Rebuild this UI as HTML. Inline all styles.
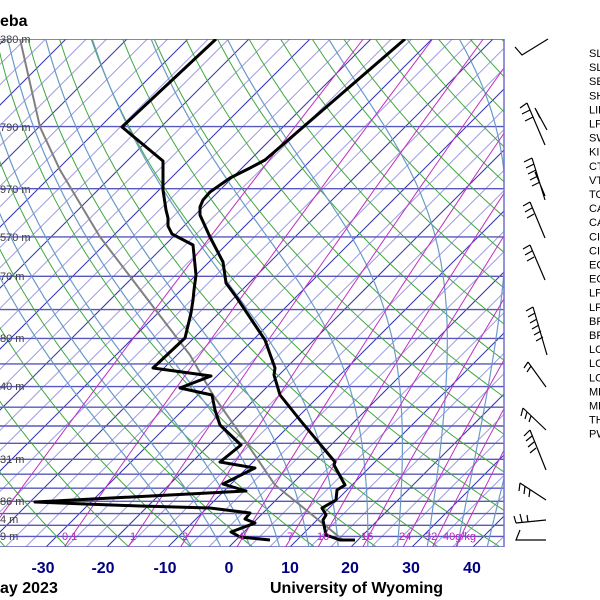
<!DOCTYPE html>
<html><head><meta charset="utf-8"><style>
html,body{margin:0;padding:0;background:#fff;width:600px;height:600px;overflow:hidden}
svg{display:block}
text{font-family:"Liberation Sans",Arial,sans-serif}
</style></head><body>
<svg id="s" width="600" height="600" viewBox="0 0 600 600" xmlns="http://www.w3.org/2000/svg">
<defs><clipPath id="c"><rect x="0" y="39" width="504" height="508"/></clipPath></defs>
<g id="bg" clip-path="url(#c)"></g>
<g id="fg" clip-path="url(#c)">
<polyline fill="none" stroke="#808080" stroke-width="2" points="20,39 40,127 60,170 100,237 148,300 190,355 213,395 250,448 275,485 300,505 343,540"/>
<polyline fill="none" stroke="#000" stroke-width="3" stroke-linejoin="round" points="216,39 122,127 163,161 163,190 166,210 168,218 168,226 172,234 193,245 196,275 194,290 193,300 191,313 185,338 153,368 211,376 180,388 212,395 215,410 220,425 241,445 220,462 255,468 223,484 246,491 35,502 85,504 140,506 210,508 250,513 245,519 255,523 231,532 240,537 270,540"/>
<polyline fill="none" stroke="#000" stroke-width="3" stroke-linejoin="round" points="405,39 265,160 250,168 230,178 210,192 203,200 200,207 200,215 210,237 223,262 226,283 237,298 265,340 275,368 274,375 280,395 300,420 335,462 334,465 345,485 337,490 336,500 322,508 326,515 323,520 326,535 340,540 355,540"/>
</g>
<line x1="504" y1="39" x2="504" y2="547" stroke="#7070d0" stroke-width="1.5"/>
<g id="lab" font-size="11" fill="#404040"></g>
<g font-size="16" font-weight="bold" fill="#000080" text-anchor="middle">
<text x="43" y="573">-30</text><text x="103" y="573">-20</text><text x="165" y="573">-10</text><text x="229" y="573">0</text><text x="290" y="573">10</text><text x="350" y="573">20</text><text x="411" y="573">30</text><text x="472" y="573">40</text>
</g>
<g font-size="16" font-weight="bold" fill="#000">
<text x="0" y="26">eba</text>
<text x="0" y="593">ay 2023</text>
<text x="270" y="593">University of Wyoming</text>
</g>
<g font-size="11" fill="#c020c0" id="mrl"></g>
<g stroke="#000" stroke-width="1.2" fill="none" id="wind">
<path d="M548,39 L522,55 L515,47"/>
<path d="M545,145 L527,103 M527,103 L520,108 M530,110 L522,114 M533,117 L525,121 M547,130 L535,108 M535,108 L540,118"/>
<path d="M545,200 L532,158 M532,158 L524,162 M534,164 L526,168 M536,170 L528,174 M538,176 L530,180 M540,182 L532,186 M535,172 L545,196"/>
<path d="M545,238 L530,202 M530,202 L523,206 M532,208 L525,212 M534,214 L527,218"/>
<path d="M545,280 L530,245 M530,245 L523,249 M532,251 L525,255 M534,257 L527,261"/>
<path d="M547,355 L533,307 M533,307 L526,311 M535,313 L528,317 M537,319 L530,323 M539,325 L532,329 M541,331 L534,335 M543,337 L536,341"/>
<path d="M546,387 L528,362 M528,362 L524,368 M531,366 L527,372"/>
<path d="M546,430 L523,408 M523,408 L521,416 M527,412 L525,419 M531,416 L529,422"/>
<path d="M546,470 L530,430 M530,430 L524,436 M532,436 L526,441 M534,442 L528,447 M536,448 L530,453"/>
<path d="M546,500 L520,483 M520,483 L519,491 M525,486 L524,494 M530,489 L529,497"/>
<path d="M546,520 L516,523 M516,523 L514,516 M522,522 L520,514 M528,522 L527,515"/>
<path d="M546,540 L516,540 L520,530"/>
</g>
<g font-size="11" fill="#000" id="idx"></g>
</svg>
<script>
(function(){
var NS="http://www.w3.org/2000/svg";
function Y(p){return 39+216*Math.log(p/100);}
function X(T,p){return 229+6.1*T+(547-Y(p));}
var bg=document.getElementById('bg');
function line(pts,col,w,dash){var e=document.createElementNS(NS,'polyline');e.setAttribute('points',pts.map(function(a){return a[0].toFixed(1)+','+a[1].toFixed(1)}).join(' '));e.setAttribute('fill','none');e.setAttribute('stroke',col);e.setAttribute('stroke-width',w);if(dash)e.setAttribute('stroke-dasharray',dash);bg.appendChild(e);}
for(var k=-60;k<=40;k++){var T=k*10/3;var x0=229+6.1*T;var dark=(k%3===0);
line([[x0,547],[x0+508,39]],dark?"#3434b4":"#9a9ae2",1);}
for(var p=100;p<=1050;p+=50){var y=Y(p);line([[0,y],[504,y]],"#5858bc",1.4);}
for(var th=-40;th<=200;th+=10){var pts=[];for(var p=100;p<=1050;p+=10){var T=(th+273.15)*Math.pow(p/1000,0.286)-273.15;pts.push([X(T,p),Y(p)]);}line(pts,"#40a840",1);}
function es(Tc){return 6.112*Math.exp(17.67*Tc/(Tc+243.5));}
for(var t0=-9;t0<=41;t0+=5){var pts=[];
 var Tk=t0+273.15,pp=1000;
 for(var i=0;i<10;i++){var r=0.622*es(Tk-273.15)/(pp-es(Tk-273.15));var d=(287*Tk+2.5e6*r)/(pp*(1005+2.5e6*2.5e6*r*0.622/(287*Tk*Tk)));Tk+=d*5;pp+=5;}
 var T=Tk,p=pp;
 while(p>=100){pts.push([X(T-273.15,p),Y(p)]);var e=es(T-273.15);var r=0.622*e/Math.max(p-e,1);var d=(287*T+2.5e6*r)/(p*(1005+2.5e6*2.5e6*r*0.622/(287*T*T)));T-=d*5;p-=5;}
 line(pts,"#6a9ac8",1.2);}
var ws=[0.1,0.4,1,2,4,7,10,16,24,32,40];
for(var i=0;i<ws.length;i++){var w=ws[i],pts=[];for(var p=1050;p>=100;p-=25){var e=w*p/(622+w);var L=Math.log(e/6.112);var Td=243.5*L/(17.67-L);pts.push([X(Td,p),Y(p)]);}line(pts,"#c030c0",1);}
var mrl=document.getElementById('mrl');
[["0.1",62],["1",130],["2",182],["4",238],["7",287],["10",317],["16",361],["24",399],["32",425],["40g/kg",443]].forEach(function(a){var t=document.createElementNS(NS,'text');t.setAttribute('x',a[1]);t.setAttribute('y',540);t.textContent=a[0];mrl.appendChild(t);});
var lab=document.getElementById('lab');
[["380 m",39],["790 m",127],["970 m",189],["570 m",237],["70 m",276],["80 m",338],["40 m",386],["31 m",459],["86 m",501],["4 m",519],["9 m",536]].forEach(function(a){var t=document.createElementNS(NS,'text');t.setAttribute('x',0);t.setAttribute('y',a[1]+4);t.textContent=a[0];lab.appendChild(t);});
var idx=document.getElementById('idx');
["SLAT","SLON","SELV","SHOW","LIFT","LFTV","SWET","KINX","CTOT","VTOT","TOTL","CAPE","CAPV","CINS","CINV","EQLV","EQTV","LFCT","LFCV","BRCH","BRCV","LCLT","LCLP","LOCL","MLTH","MLMR","THTK","PWAT"].forEach(function(s,i){var t=document.createElementNS(NS,'text');t.setAttribute('x',589);t.setAttribute('y',57+14.1*i);t.textContent=s;idx.appendChild(t);});
})();
</script>
</body></html>
